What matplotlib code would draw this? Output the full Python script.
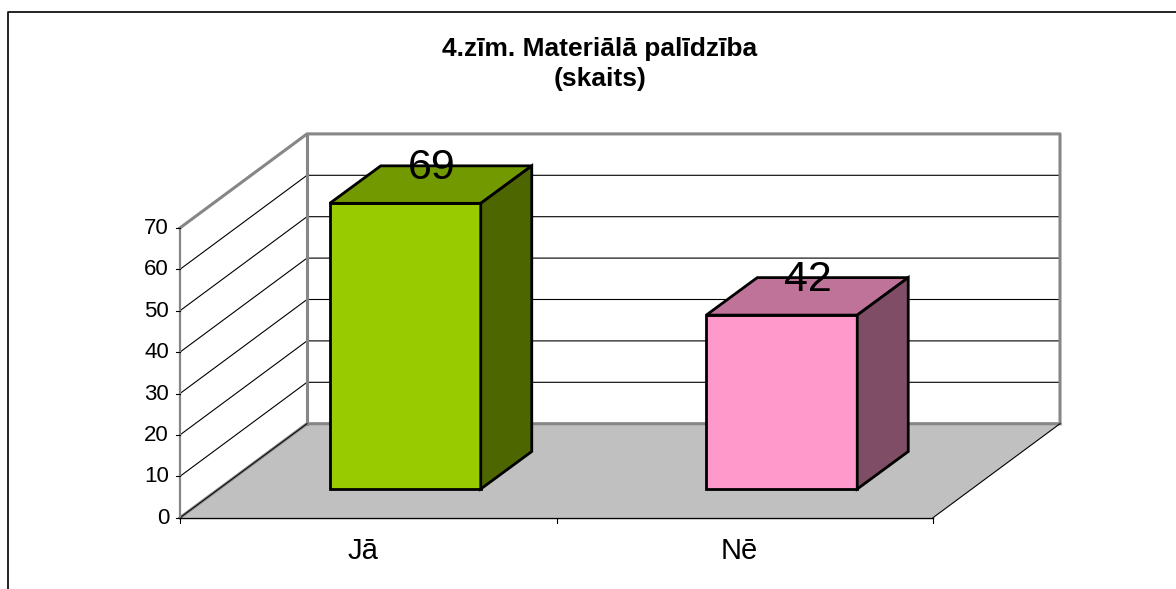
import matplotlib
matplotlib.use("Agg")
import matplotlib.pyplot as plt
from matplotlib.patches import Polygon

plt.rcParams['font.family'] = ['Liberation Sans', 'DejaVu Sans']

categories = ["Jā", "Nē"]
values = [69, 42]
bar_colors = ["#99CC00", "#FF99CC"]
top_colors = ["#739900", "#BF7399"]
side_colors = ["#4D6600", "#804D66"]
y_ticks = [0, 10, 20, 30, 40, 50, 60, 70]

title = "4.zīm. Materiālā palīdzība\n(skaits)"

W, H = 1176, 589
# pixel layout of the fake 3D box
x0, x1 = 180, 933
y0 = 517.7
unit = 4.14
dx, dy = 127, -94
bar_w = 151
bar_dx, bar_dy = 51, -37.5
base = 489

fig = plt.figure(figsize=(W / 100, H / 100), dpi=100)
ax = fig.add_axes([0, 0, 1, 1])
ax.set_xlim(0, W)
ax.set_ylim(H, 0)
ax.axis("off")


def py(v):
    return y0 - v * unit


# outer frame, cut off at the bottom and right of the picture
ax.plot([7.5, 7.5, W], [H, 11.5, 11.5], color="black", lw=1.2, zorder=1)

# back wall and floor
top = py(y_ticks[-1])
ax.add_patch(Polygon([(x0, y0), (x1, y0), (x1 + dx, y0 + dy), (x0 + dx, y0 + dy)],
                     fc="#C0C0C0", ec="none", zorder=1))
for t in y_ticks[1:-1]:
    ax.plot([x0, x0 + dx, x1 + dx], [py(t), py(t) + dy, py(t) + dy], color="black", lw=0.8, zorder=2)
wall = "#868686"
ax.plot([x0, x0 + dx, x1 + dx, x1 + dx], [top, top + dy, top + dy, y0 + dy], color=wall, lw=2.2, zorder=2)
ax.plot([x0 + dx, x0 + dx], [top + dy, y0 + dy], color=wall, lw=2.2, zorder=2)
ax.plot([x0, x0 + dx, x1 + dx], [y0, y0 + dy, y0 + dy], color=wall, lw=2.2, zorder=2)
ax.plot([x0, x0 + dx], [y0, y0 + dy], color="black", lw=0.7, zorder=3)
ax.plot([x1, x1 + dx], [y0, y0 + dy], color="black", lw=0.8, zorder=3)

# axes
ax.plot([x0, x0], [top, y0], color=wall, lw=1.6, zorder=3)
ax.plot([x0, x1], [y0, y0], color="black", lw=1, zorder=3)
for t in y_ticks:
    ax.plot([x0 - 4, x0], [py(t), py(t)], color="black", lw=0.8, zorder=3)
    ax.text(x0 - 11, py(t) + 0.5, str(t), ha="right", va="center", fontsize=16, color="black")
n = len(categories)
step = (x1 - x0) / n
for i in range(n + 1):
    ax.plot([x0 + i * step] * 2, [y0, y0 + 5], color="black", lw=0.8, zorder=3)

# bars
for i, (cat, v) in enumerate(zip(categories, values)):
    left = x0 + i * step + (step - bar_w) / 2 + 37
    right = left + bar_w
    h = base - v * unit
    ax.add_patch(Polygon([(left, h), (right, h), (right, base), (left, base)],
                         fc=bar_colors[i], ec="black", lw=2, joinstyle="miter", zorder=4))
    ax.add_patch(Polygon([(left, h), (right, h), (right + bar_dx, h + bar_dy), (left + bar_dx, h + bar_dy)],
                         fc=top_colors[i], ec="black", lw=2, joinstyle="miter", zorder=4))
    ax.add_patch(Polygon([(right, h), (right + bar_dx, h + bar_dy), (right + bar_dx, base + bar_dy), (right, base)],
                         fc=side_colors[i], ec="black", lw=2, joinstyle="miter", zorder=4))
    ax.text((left + right) / 2 + 26.5, h + bar_dy + 2, str(v), ha="center", va="center", fontsize=31,
            color="black", zorder=5)
    ax.text(x0 + (i + 0.5) * step - 5.5, 551, cat, ha="center", va="center", fontsize=21, color="black")

ax.text(600, 64, title, ha="center", va="center", fontsize=19, fontweight="bold", linespacing=1.33)

fig.savefig("out.png", dpi=100)
